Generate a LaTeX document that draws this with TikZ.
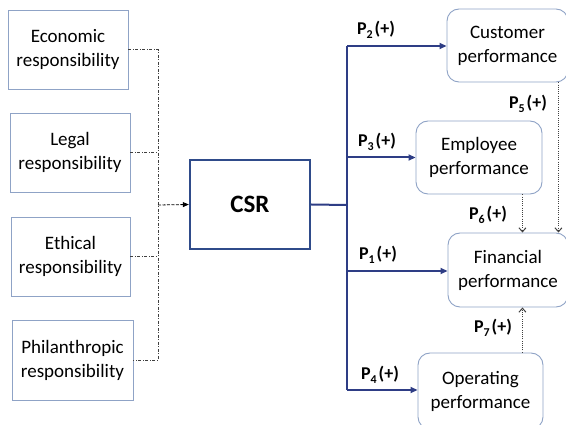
\documentclass[tikz,border=0pt]{standalone}
\usepackage{fontspec}
\setmainfont{Carlito}
\usetikzlibrary{arrows.meta,calc}
\definecolor{boxblue}{HTML}{8FA3C6}
\definecolor{navy}{HTML}{2E3D85}
\definecolor{csrblue}{HTML}{2F4B8A}
\definecolor{dotgray}{HTML}{404040}
\newcommand{\plab}[1]{\textbf{P\raisebox{-3.5pt}{\fontsize{12}{12}\selectfont #1}\hspace{2pt}(+)}}
\begin{document}
\begin{tikzpicture}[x=1pt,y=-1pt,
  leftbox/.style={draw=boxblue, line width=0.9pt, fill=white, align=center,
    font=\fontsize{19}{24}\selectfont, inner sep=0pt},
  rightbox/.style={draw=boxblue, line width=0.9pt, fill=white, align=center,
    rounded corners=12pt, font=\fontsize{19}{24}\selectfont, inner sep=0pt},
  csrbox/.style={draw=csrblue, line width=2.4pt, fill=white,
    font=\fontsize{25}{28}\selectfont\bfseries, inner sep=0pt},
  dashdot/.style={draw=dotgray, line width=0.8pt,
    dash pattern=on 3pt off 1.5pt on 1pt off 1.5pt},
  bus/.style={draw=navy, line width=2pt},
  busarrow/.style={bus, -{Triangle[length=7pt,width=6pt]}},
  dotarrow/.style={draw=dotgray, line width=1pt, dash pattern=on 1pt off 1.2pt,
    -{Straight Barb[length=4pt,width=7pt]}},
  plabel/.style={font=\fontsize{18}{20}\selectfont, inner sep=0pt}
]
\useasboundingbox (0,0) rectangle (566,425);

% left boxes
\node[leftbox, minimum width=120pt, minimum height=79pt] (eco) at (68,49.5) {Economic\\responsibility};
\node[leftbox, minimum width=120pt, minimum height=79pt] (leg) at (70,152.5) {Legal\\responsibility};
\node[leftbox, minimum width=119pt, minimum height=79pt] (eth) at (70.5,256.5) {Ethical\\responsibility};
\node[leftbox, minimum width=121pt, minimum height=80pt] (phi) at (72.5,360) {Philanthropic\\responsibility};

% CSR
\node[csrbox, minimum width=120pt, minimum height=89pt] (csr) at (250,204.5) {CSR};

% right boxes
\node[rightbox, minimum width=121pt, minimum height=73pt] (cust) at (507.5,45.5) {Customer\\performance};
\node[rightbox, minimum width=126pt, minimum height=73pt] (emp) at (479,157.5) {Employee\\performance};
\node[rightbox, minimum width=120pt, minimum height=74pt] (fin) at (508,270) {Financial\\performance};
\node[rightbox, minimum width=125pt, minimum height=76pt] (oper) at (480.5,391) {Operating\\performance};

% left connectors
\coordinate (v) at (158,205);
\draw[dashdot] (eco.east) -- (v |- eco.east) -- (v |- phi.east) -- (phi.east);
\draw[dashdot] (leg.east) -- (v |- leg.east);
\draw[dashdot] (eth.east) -- (v |- eth.east);
\draw[draw=black, line width=0.8pt, dash pattern=on 3pt off 1.5pt,
  -{Triangle[length=6pt,width=5pt]}] (v) -- (csr.west);

% bus
\coordinate (j) at (347,205);
\draw[bus] (csr.east) -- (j);
\draw[bus] (j |- 0,46) -- (j |- 0,390);
\draw[busarrow] (j |- 0,46) -- (cust.west |- 0,46);
\draw[busarrow] (j |- emp.west) -- (emp.west);
\draw[busarrow] (j |- 0,271) -- (fin.west |- 0,271);
\draw[busarrow] (j |- 0,390) -- (oper.west |- 0,390);

% labels
\node[plabel] (p2) at (376,30) {\plab{2}};
\node[plabel] (p3) at (377,142) {\plab{3}};
\node[plabel] (p1) at (378,255) {\plab{1}};
\node[plabel] (p4) at (380,375) {\plab{4}};
\node[plabel] (p5) at (528,104) {\plab{5}};
\node[plabel] (p6) at (488,215) {\plab{6}};
\node[plabel] (p7) at (493,328) {\plab{7}};

% dotted arrows
\coordinate (c1) at ($(cust.south east)+(-10,0)$);
\coordinate (e1) at ($(emp.south east)+(-20,0)$);
\coordinate (o1) at ($(oper.north east)+(-21,0)$);
\draw[dotarrow] (c1) -- (c1 |- fin.north);
\draw[dotarrow] (e1) -- (e1 |- fin.north);
\draw[dotarrow] (o1) -- (o1 |- fin.south);
\end{tikzpicture}
\end{document}
